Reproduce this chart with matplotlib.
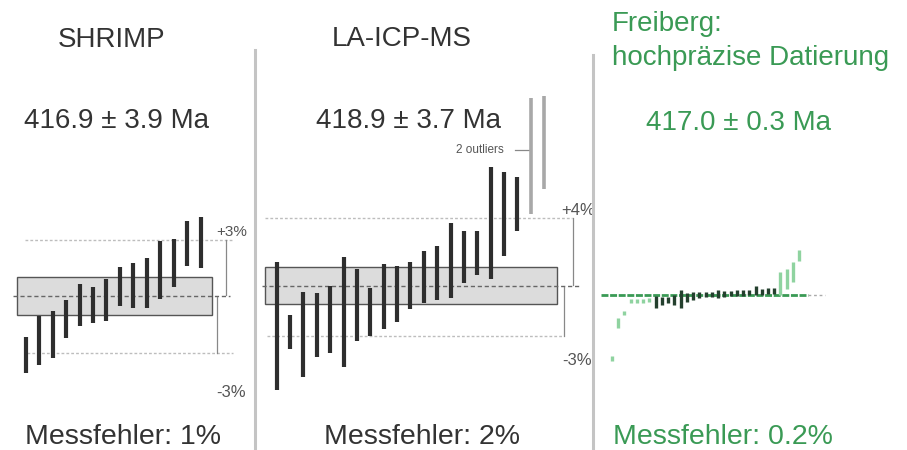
import matplotlib
matplotlib.use("Agg")
import matplotlib.pyplot as plt
from matplotlib import font_manager
from matplotlib.lines import Line2D

# ---------------- data (deviation from mean age, %) ----------------
shrimp_top = [-2.15, -1.04, -0.78, -0.20, 0.64, 0.48, 0.92, 1.56, 1.75, 2.05, 2.92, 3.06, 3.99, 4.20]
shrimp_bot = [-4.10, -3.68, -3.27, -2.20, -1.58, -1.40, -1.30, -0.52, -0.64, -0.60, -0.16, 0.51, 1.61, 1.49]
shrimp_box = (-1.0, 1.05)
shrimp_band = (-3, 3)

laicp_top = [1.42, -1.74, -0.39, -0.45, 0.0, 1.68, 0.99, -0.16, 1.28, 1.18, 1.42, 2.07, 2.37, 3.69,
             3.25, 3.23, 7.04, 6.75, 6.41]
laicp_bot = [-6.17, -3.77, -5.40, -4.20, -4.00, -4.83, -3.25, -2.96, -2.58, -2.17, -1.38, -1.04, -0.85,
             -0.75, 0.14, 0.63, 0.37, 1.78, 3.23]
outlier_top = [11.1, 11.2]
outlier_bot = [4.26, 5.72]
laicp_box = (-1.1, 1.08)
laicp_band = (-3, 4)

frei_top = [-3.27, -1.25, -0.88, -0.24, -0.24, -0.24, -0.19, -0.08, -0.13, -0.13, -0.03, 0.24, 0.08,
            0.13, 0.13, 0.13, 0.13, 0.24, 0.19, 0.19, 0.24, 0.24, 0.24, 0.45, 0.29, 0.35, 0.35,
            1.21, 1.33, 1.74, 2.39]
frei_bot = [-3.54, -1.78, -1.10, -0.45, -0.45, -0.45, -0.40, -0.72, -0.56, -0.45, -0.56, -0.72, -0.40,
            -0.29, -0.19, -0.13, -0.13, -0.19, -0.13, -0.08, -0.08, -0.08, -0.03, -0.03, -0.03, 0.03,
            0.03, -0.03, 0.27, 0.68, 1.79]
frei_excluded = [True, True, True, True, True, True, True] + [False] * 20 + [True, True, True, True]

titles = ["SHRIMP", "LA-ICP-MS"]
ages = ["416.9 ± 3.9 Ma", "418.9 ± 3.7 Ma", "417.0 ± 0.3 Ma"]
errors = ["Messfehler: 1%", "Messfehler: 2%", "Messfehler: 0.2%"]
frei_title = ["Freiberg:", "hochpräzise Datierung"]

# ---------------- style ----------------
avail = {f.name for f in font_manager.fontManager.ttflist}
FAM = [f for f in ["Liberation Sans", "DejaVu Sans"] if f in avail] or ["DejaVu Sans"]
plt.rcParams["font.family"] = FAM

W, H = 907, 450
DARK = "#333333"
GREEN = "#3a9a55"
BAR = "#2e2e2e"
GUIDE = "#bdbdbd"
FS = 20

fig = plt.figure(figsize=(W / 100, H / 100), dpi=100)
fig.patch.set_facecolor("white")


def panel_axes(x0, dx, c, s):
    """Axes covering the whole figure: index i at pixel x0 + i*dx, value v (%) at pixel row c - v*s."""
    ax = fig.add_axes([0, 0, 1, 1])
    ax.set_xlim(-x0 / dx, (W - x0) / dx)
    ax.set_ylim(-(H - c) / s, c / s)
    ax.axis("off")
    ax.patch.set_alpha(0)
    return ax


def px(x, y):
    return x / W, 1 - y / H


# ---------------- panel 1: SHRIMP ----------------
ax1 = panel_axes(25.7, 13.45, 296.3, 18.8)
ax1.add_patch(plt.Rectangle((-0.67, shrimp_box[0]), 14.52, shrimp_box[1] - shrimp_box[0],
                            facecolor="#dcdcdc", edgecolor="#555555", lw=1.0, zorder=1))
ax1.plot([-0.95, 15.2], [0, 0], color="#666666", lw=1.0, ls=(0, (3, 2)), zorder=2)
ax1.plot([-0.05, 15.4], [shrimp_band[1]] * 2, color=GUIDE, lw=1.0, ls=(0, (2, 1.5)), zorder=1)
ax1.plot([0.1, 15.4], [shrimp_band[0]] * 2, color=GUIDE, lw=1.0, ls=(0, (2, 1.5)), zorder=1)
ax1.vlines(range(len(shrimp_top)), shrimp_bot, shrimp_top, color=BAR, lw=3.0, zorder=3)
ax1.plot([14.9, 14.9], [0.05, shrimp_band[1]], color="#888888", lw=0.9)
ax1.plot([14.22, 14.22], [-0.05, shrimp_band[0]], color="#888888", lw=0.9)
ax1.text(15.34, 3.42, "+3%", fontsize=11, color="#555555", ha="center", va="center")
ax1.text(15.27, -5.1, "-3%", fontsize=12, color="#555555", ha="center", va="center")

# ---------------- panel 2: LA-ICP-MS ----------------
ax2 = panel_axes(276.7, 13.37, 285.7, 16.9)
ax2.add_patch(plt.Rectangle((-0.87, laicp_box[0]), 21.81, laicp_box[1] - laicp_box[0],
                            facecolor="#dcdcdc", edgecolor="#555555", lw=1.0, zorder=1))
ax2.plot([-1.12, 22.7], [0, 0], color="#666666", lw=1.0, ls=(0, (3, 2)), zorder=2)
ax2.plot([-0.87, 22.06], [laicp_band[1]] * 2, color=GUIDE, lw=1.0, ls=(0, (2, 1.5)), zorder=1)
ax2.plot([-0.75, 21.41], [laicp_band[0]] * 2, color=GUIDE, lw=1.0, ls=(0, (2, 1.5)), zorder=1)
ax2.vlines(range(len(laicp_top)), laicp_bot, laicp_top, color=BAR, lw=3.0, zorder=3)
n2 = len(laicp_top)
ax2.vlines(range(n2, n2 + len(outlier_top)), outlier_bot, outlier_top, color="#a8a8a8", lw=2.6, zorder=3)
ax2.plot([22.18, 22.18], [0.05, laicp_band[1]], color="#888888", lw=0.9)
ax2.plot([21.51, 21.51], [-0.1, laicp_band[0]], color="#888888", lw=0.9)
ax2.text(22.53, 4.45, "+4%", fontsize=12, color="#555555", ha="center", va="center")
ax2.text(22.5, -4.4, "-3%", fontsize=12, color="#555555", ha="center", va="center")
ax2.text(16.95, 8.05, "2 outliers", fontsize=8.5, color="#555555", ha="right", va="center")
ax2.plot([17.8, 18.95], [8.05, 8.05], color="#888888", lw=0.9)

# ---------------- panel 3: Freiberg ----------------
ax3 = panel_axes(612, 6.24, 294.5, 18.8)
ax3.plot([-1.76, 31.4], [0, 0], color=GREEN, lw=2.0, ls=(0, (2.5, 0.6)), zorder=2)
ax3.plot([31.4, 34.1], [0, 0], color="#aaaaaa", lw=1.0, ls=(0, (2, 2)), zorder=2)
for i, (t, b, ex) in enumerate(zip(frei_top, frei_bot, frei_excluded)):
    ax3.vlines(i, b, t, color="#8fd3a0" if ex else "#24402e", lw=2.4, zorder=3)

# ---------------- dividers ----------------
fig.add_artist(Line2D([255 / W, 255 / W], [0, 1 - 50 / H], color="#c4c4c4", lw=2.2))
fig.add_artist(Line2D([593 / W, 593 / W], [0, 1 - 55 / H], color="#c4c4c4", lw=2.2))

# ---------------- texts ----------------
fig.text(*px(112, 47), titles[0], fontsize=FS, color=DARK, ha="center", va="baseline")
fig.text(*px(402, 46), titles[1], fontsize=FS, color=DARK, ha="center", va="baseline")
fig.text(*px(116, 128), ages[0], fontsize=FS, color=DARK, ha="center", va="baseline")
fig.text(*px(408, 128), ages[1], fontsize=FS, color=DARK, ha="center", va="baseline")
fig.text(*px(738, 130), ages[2], fontsize=FS, color=GREEN, ha="center", va="baseline")
fig.text(*px(612, 31), frei_title[0], fontsize=FS, color=GREEN, ha="left", va="baseline")
fig.text(*px(612, 65), frei_title[1], fontsize=FS, color=GREEN, ha="left", va="baseline")
fig.text(*px(123, 444), errors[0], fontsize=20.5, color=DARK, ha="center", va="baseline")
fig.text(*px(422, 444), errors[1], fontsize=20.5, color=DARK, ha="center", va="baseline")
fig.text(*px(723, 444), errors[2], fontsize=20.5, color=GREEN, ha="center", va="baseline")

fig.savefig("out.png", dpi=100, facecolor="white")
